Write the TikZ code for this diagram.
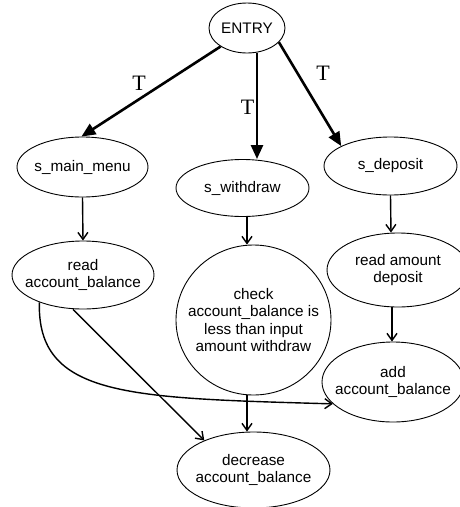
\documentclass[tikz,border=0pt]{standalone}
\usepackage{fontspec}
\setmainfont{Liberation Sans}
\newfontfamily\tfont{Liberation Serif}
\usetikzlibrary{shapes.geometric,arrows.meta}
\tikzset{
  txt/.style={align=center,inner sep=0pt,font=\fontsize{15.3}{17.6}\selectfont},
  st/.style={ellipse,draw,line width=0.9pt,inner sep=0pt,label={[txt]center:{#1}}},
  thickarr/.style={line width=2.6pt,-{Triangle[length=14pt,width=12pt]}},
  thinarr/.style={line width=1.4pt,-{Straight Barb[length=7pt,width=10pt]}},
  tlab/.style={font=\tfont\fontsize{22}{22}\selectfont,inner sep=0pt}
}
\begin{document}
\begin{tikzpicture}[x=1pt,y=-1pt]
\useasboundingbox (0,0) rectangle (459,507);
\node[st={ENTRY},minimum width=76pt,minimum height=50pt] (entry) at (247,28) {};
\node[st={s\_main\_menu},minimum width=131pt,minimum height=60pt] (smm) at (82.5,167) {};
\node[st={s\_withdraw},minimum width=133pt,minimum height=57pt] (sw) at (242.5,188) {};
\node[st={s\_deposit},minimum width=133pt,minimum height=58pt] (sd) at (390.5,166) {};
\node[st={read\\account\_balance},minimum width=142pt,minimum height=68pt] (read) at (83,275) {};
\node[st={check\\account\_balance is\\less than input\\amount withdraw},minimum width=155pt,minimum height=150pt] (check) at (253.5,320) {};
\node[st={read amount\\deposit},minimum width=142pt,minimum height=74pt] (readamt) at (398,270) {};
\node[st={add\\account\_balance},minimum width=142pt,minimum height=80pt] (add) at (393,382) {};
\node[st={decrease\\account\_balance},minimum width=153pt,minimum height=76pt] (dec) at (253.5,470) {};

\draw[thickarr] (entry.215) -- (smm.92);
\draw[thickarr] ([xshift=10pt]entry.south) -- ([xshift=14.5pt]sw.north);
\draw[thickarr] (entry.-24) -- (sd.158);
\node[tlab] (t1) at (139,83) {T};
\node[tlab] (t2) at (247.5,107) {T};
\node[tlab] (t3) at (323,73) {T};

\draw[thinarr] (smm.south) -- (read.north);
\draw[thinarr] ([xshift=4.5pt]sw.south) -- ([xshift=-6.5pt]check.north);
\draw[thinarr] (sd.south) -- ([xshift=-7pt]readamt.north);
\draw[thinarr] ([xshift=-6pt]readamt.south) -- ([xshift=-1pt]add.north);
\draw[thinarr] ([xshift=-6.5pt]check.south) -- ([xshift=-6.5pt]dec.north);
\draw[thinarr] ([xshift=-10pt]read.south) -- (dec.149.5);
\draw[thinarr] (read.212) .. controls (37,397) and (128,398) .. (add.200);
\end{tikzpicture}
\end{document}
